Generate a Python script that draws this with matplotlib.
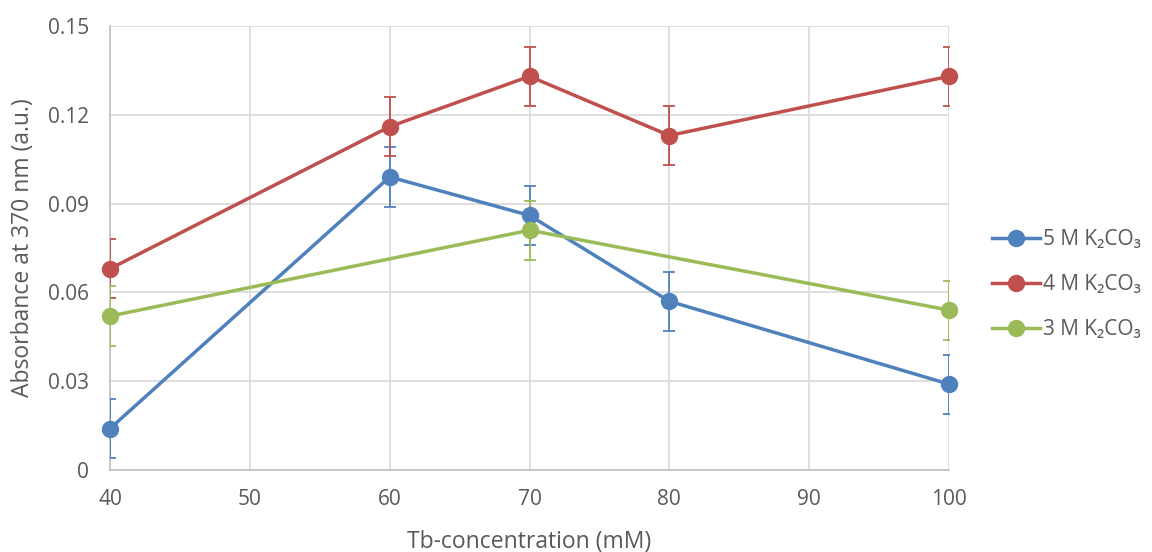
import matplotlib.pyplot as plt

x_5m = [40, 60, 70, 80, 100]
y_5m = [0.014, 0.099, 0.086, 0.057, 0.029]
x_4m = [40, 60, 70, 80, 100]
y_4m = [0.068, 0.116, 0.133, 0.113, 0.133]
x_3m = [40, 70, 100]
y_3m = [0.052, 0.081, 0.054]
err = 0.01

labels = ["5 M K₂CO₃", "4 M K₂CO₃", "3 M K₂CO₃"]
colors = ["#4F81BD", "#C0504D", "#9BBB59"]
TXT = "#595959"

plt.rcParams["font.family"] = ["Open Sans", "DejaVu Sans"]

fig = plt.figure(figsize=(11.52, 5.52), dpi=100)
ax = fig.add_axes([0.0955, 0.1486, 0.7283, 0.8043])

series = [(x_5m, y_5m), (x_4m, y_4m), (x_3m, y_3m)]
handles = []
for (xs, ys), lab, c in zip(series, labels, colors):
    # error bars are clipped at the plot edge, lines and markers are not
    ax.errorbar(xs, ys, yerr=err, fmt="none", ecolor=c, elinewidth=1.3,
                capsize=4, capthick=1.3, zorder=3)
    ln, = ax.plot(xs, ys, color=c, lw=2.5, marker="o", ms=11.5,
                  label=lab, clip_on=False, zorder=4)
    handles.append(ln)

ax.set_xlim(40, 100)
ax.set_ylim(0, 0.15)
ax.set_xticks([40, 50, 60, 70, 80, 90, 100])
ax.set_yticks([0, 0.03, 0.06, 0.09, 0.12, 0.15])
ax.set_yticklabels(["0", "0.03", "0.06", "0.09", "0.12", "0.15"])
ax.grid(True, color="#D9D9D9", lw=1.2, zorder=0)
ax.set_axisbelow(True)
for s in ["top", "right"]:
    ax.spines[s].set_visible(False)
for s in ["left", "bottom"]:
    ax.spines[s].set_color("#BFBFBF")
    ax.spines[s].set_linewidth(1.2)
ax.tick_params(length=0, labelsize=15, colors=TXT)
ax.tick_params(axis="y", pad=15)
ax.tick_params(axis="x", pad=14)

ax.set_xlabel("Tb-concentration (mM)", fontsize=16.5, color=TXT)
ax.set_ylabel("Absorbance at 370 nm (a.u.)", fontsize=16.5, color=TXT)
ax.xaxis.set_label_coords(0.5, -0.135)
ax.yaxis.set_label_coords(-0.09, 0.5)

leg = fig.legend(handles, labels, loc="center left",
                 bbox_to_anchor=(0.861, 0.484), borderpad=0, borderaxespad=0,
                 frameon=False, fontsize=15, labelspacing=1.15,
                 handlelength=2.3, handletextpad=0.15)
for t in leg.get_texts():
    t.set_color(TXT)

fig.savefig("out.png", dpi=100)
